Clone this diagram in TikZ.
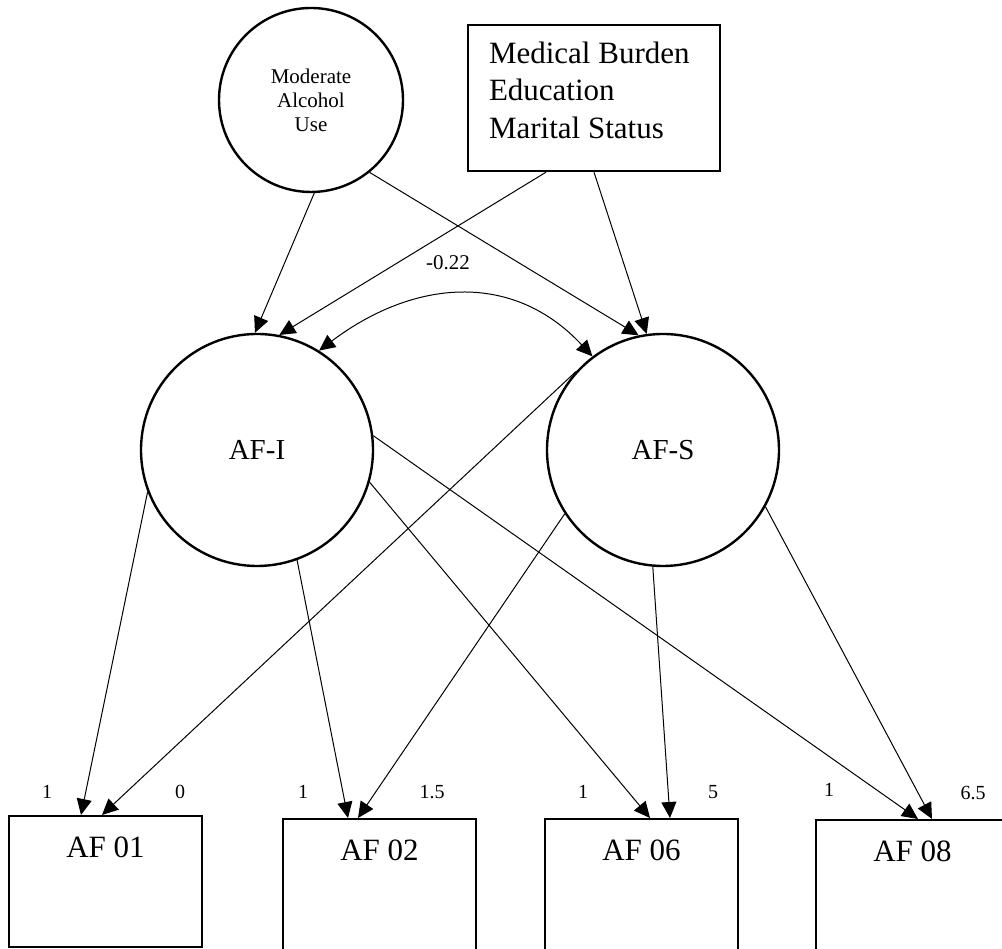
\documentclass[tikz,border=0pt]{standalone}
\usepackage{fontspec}
\setmainfont{Liberation Serif}
\usetikzlibrary{arrows.meta, calc, positioning}

\newcommand{\fBig}{\fontsize{31pt}{37.5pt}\selectfont}
\newcommand{\fLat}{\fontsize{29pt}{34pt}\selectfont}
\newcommand{\fAlc}{\fontsize{21pt}{24pt}\selectfont}
\newcommand{\fNum}{\fontsize{20pt}{24pt}\selectfont}

\begin{document}
\begin{tikzpicture}[x=1pt, y=1pt,
  latent/.style={circle, draw, line width=2.4pt, inner sep=0pt},
  indic/.style={rectangle, draw, line width=2.4pt, anchor=north, minimum width=193pt,
    inner sep=0pt, text height=41pt, text depth=99pt, font=\fBig},
  load/.style={font=\fNum},
  arr/.style={line width=1pt, -{Triangle[length=16pt, width=15pt]}},
  dblarr/.style={line width=1pt, {Triangle[length=16pt, width=15pt]}-{Triangle[length=16pt, width=15pt]}}]
\useasboundingbox (0,0) rectangle (1002,949);
\clip (0,0) rectangle (1002,949);

% predictors
\node[latent, minimum size=184pt, align=center, font=\fAlc] (alc) at (311,849) {Moderate\\Alcohol\\Use};
\node[rectangle, draw, line width=2.4pt, minimum width=252pt, minimum height=146pt,
  inner xsep=21pt, text width=210pt, align=flush left, font=\fBig] (ctrl) at (594,851)
  {Medical Burden\\Education\\Marital Status\rule[-16pt]{0pt}{0pt}};

% growth factors
\node[latent, minimum size=232pt, font=\fLat] (afi) at (257,499) {AF-I};
\node[latent, minimum size=232pt, font=\fLat] (afs) at (663,499) {AF-S};

% indicators
\node[indic, text depth=90pt] (af01) at (105.5,134) {AF 01};
\node[indic] (af02) at (379.5,131) {AF 02};
\node[indic] (af06) at (641.5,131) {AF 06};
\node[indic] (af08) at (912.5,130) {AF 08};

% loadings
\node[load] (l01a) at (47,157) {1};
\node[load] (l01b) at (180,157) {0};
\node[load] (l02a) at (303,157) {1};
\node[load] (l02b) at (432,157) {1.5};
\node[load] (l06a) at (583,157) {1};
\node[load] (l06b) at (713,157) {5};
\node[load] (l08a) at (829,159) {1};
\node[load] (l08b) at (973,156) {6.5};

\node[load, font=\fAlc] (cov) at (448,686) {-0.22};

\draw[arr] (alc.-88) -- (afi.91);
\draw[arr] ([xshift=-48pt]ctrl.south) -- (afi.79);
\draw[arr] (alc.-51.5) -- (afs.102);
\draw[arr] (ctrl.south) -- (afs.98);
\draw[dblarr] (afi.58) to[out=37, in=133, looseness=1.1] (afs.127);

\draw[arr] (afi.-159) -- ([xshift=-24.5pt]af01.north);
\draw[arr] (afi.-70) -- ([xshift=-31.5pt]af02.north);
\draw[arr] (afi.-16.6) -- ([xshift=8.5pt]af06.north);
\draw[arr] (afi.7.9) -- ([xshift=5.5pt]af08.north);

\draw[arr] (afs.138.8) -- ([xshift=-3.5pt]af01.north);
\draw[arr] (afs.-147.9) -- ([xshift=-21.5pt]af02.north);
\draw[arr] (afs.-95) -- ([xshift=28.5pt]af06.north);
\draw[arr] (afs.-29.4) -- ([xshift=19.5pt]af08.north);
\end{tikzpicture}
\end{document}
